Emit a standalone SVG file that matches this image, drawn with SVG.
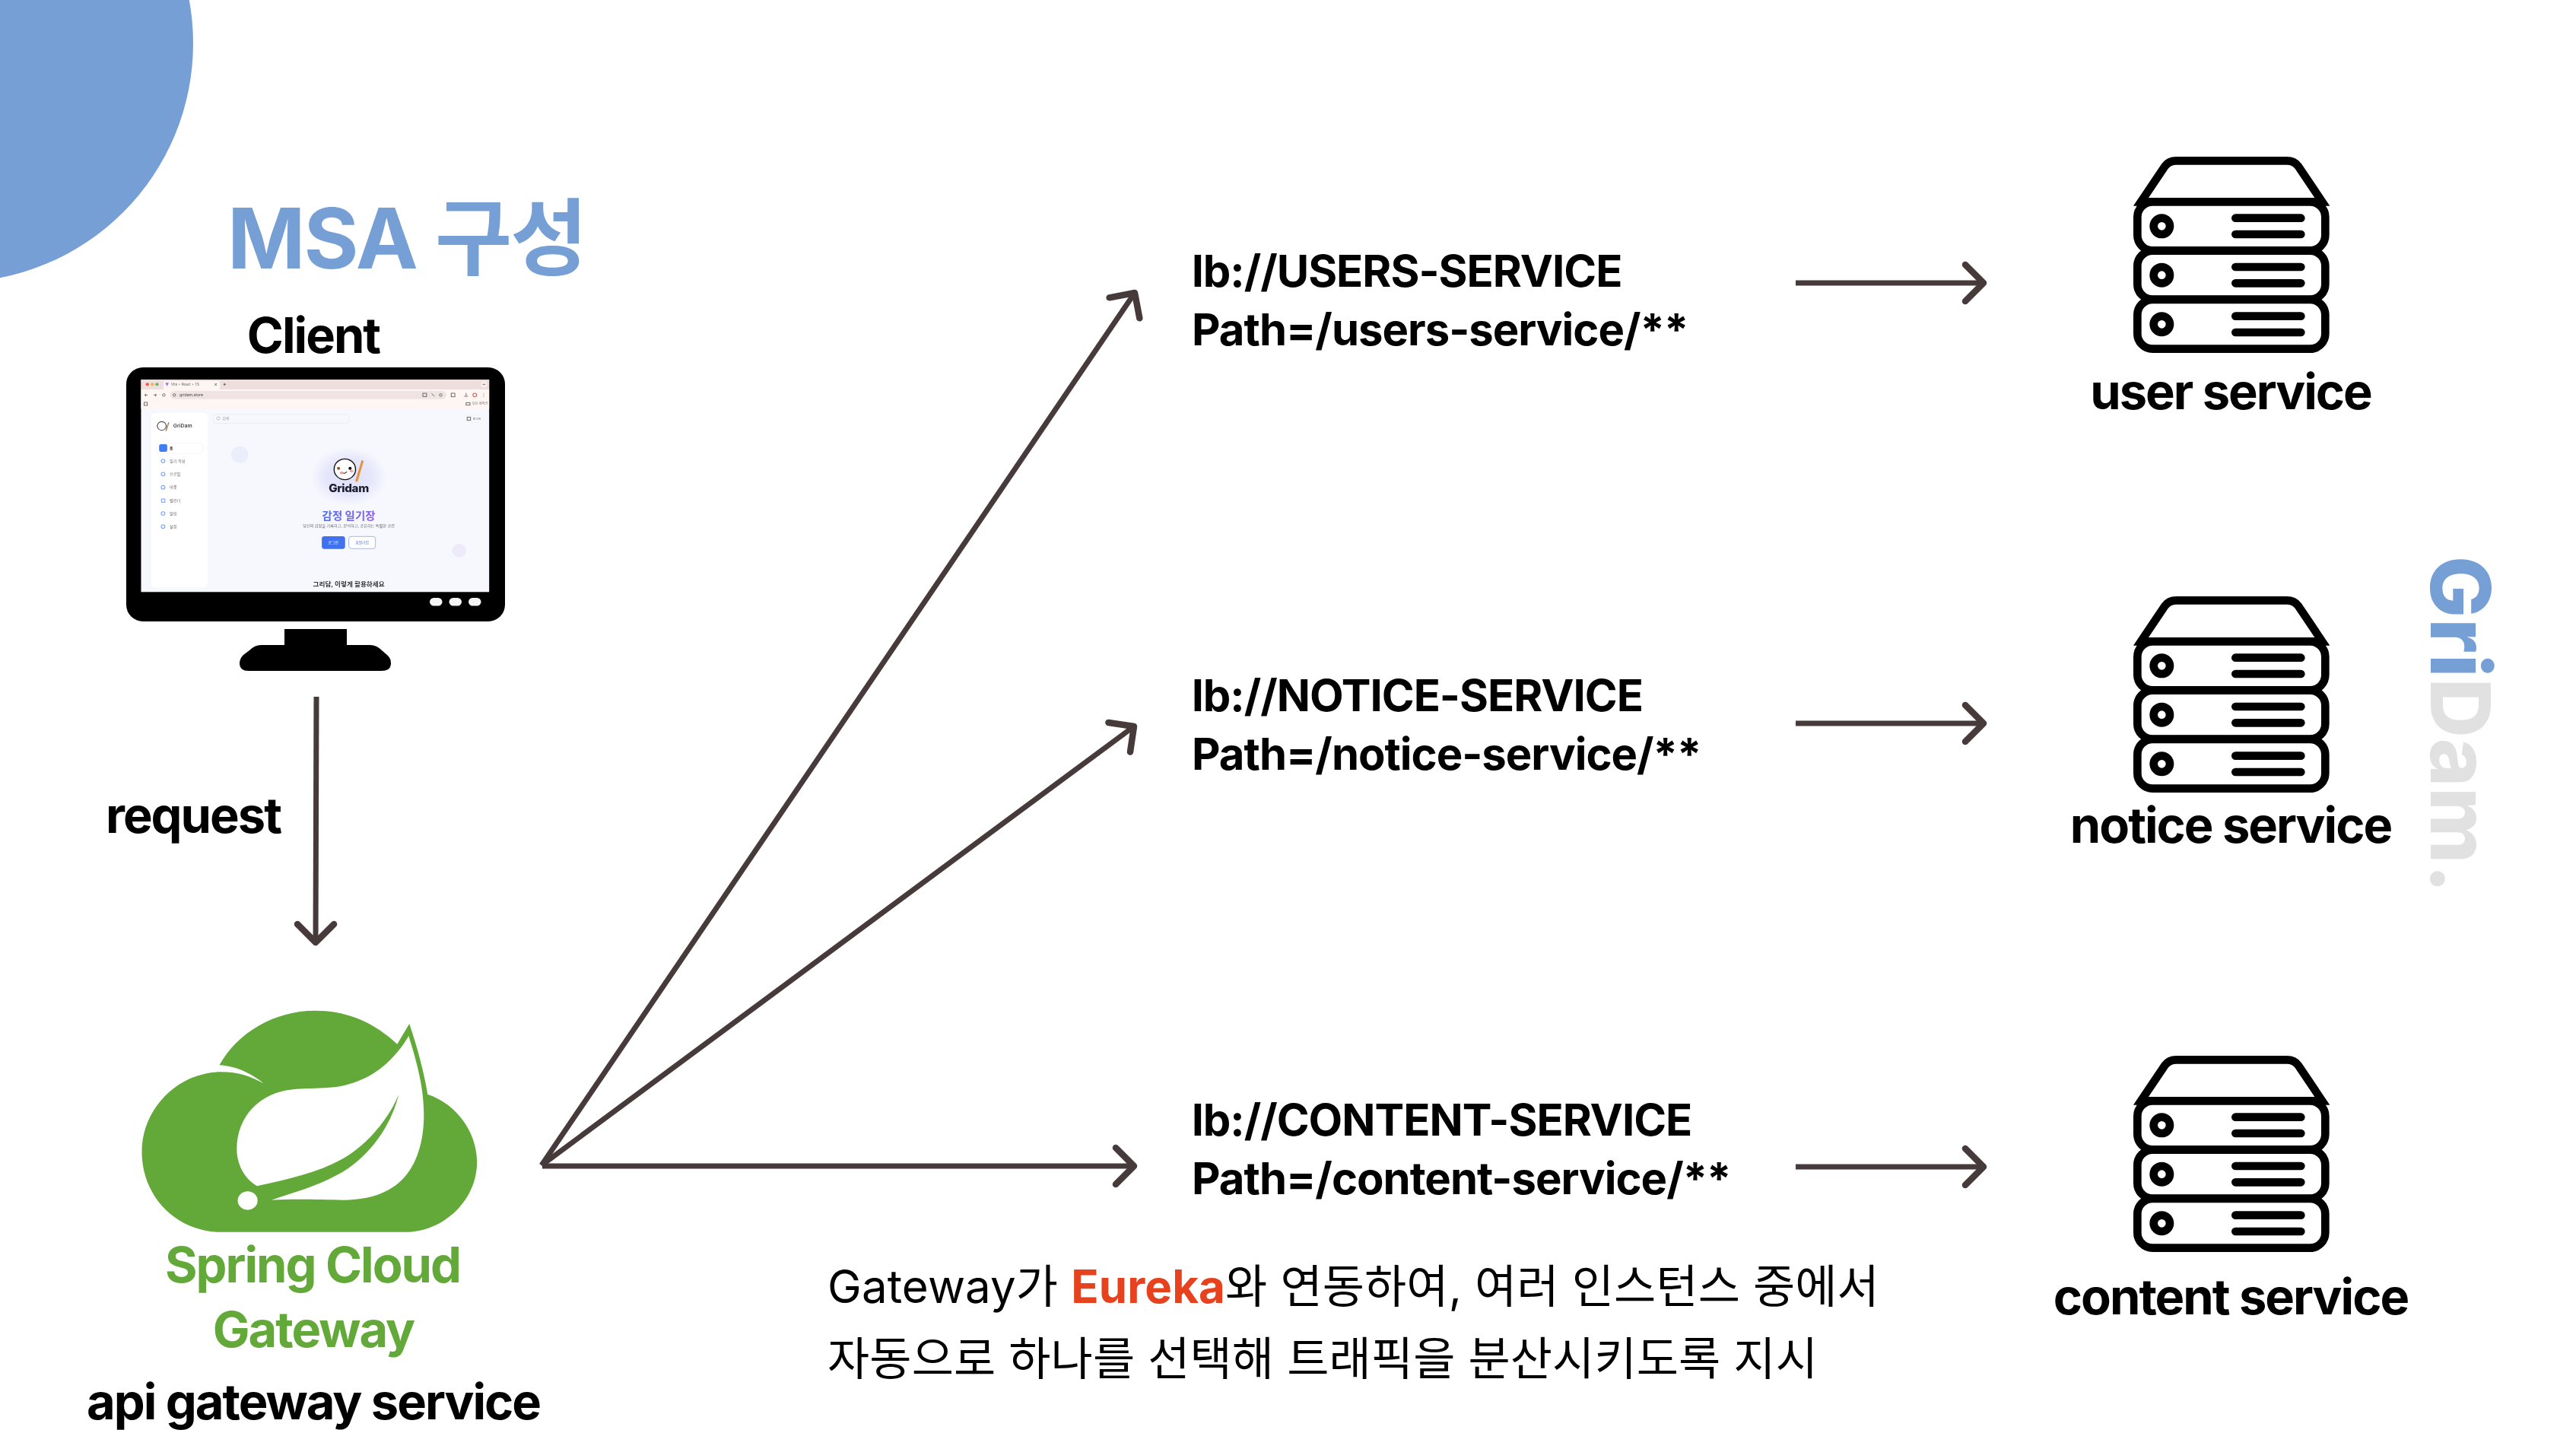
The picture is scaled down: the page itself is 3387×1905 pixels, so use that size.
<svg xmlns="http://www.w3.org/2000/svg" width="3387" height="1905" viewBox="0 0 3387 1905">
<style>
text{font-family:"Inter","Noto Sans CJK KR",sans-serif;fill:#000}
.lbl{font-size:65px;font-weight:700;text-anchor:middle;letter-spacing:-2px}
.route{font-size:58px;font-weight:700;letter-spacing:-1px}
.desc{font-size:60px;font-weight:400;letter-spacing:.12px}
.conn{fill:none;stroke:#463a3a;stroke-width:7;marker-end:url(#head)}
.srv{fill:#fff;stroke:#000;stroke-width:32}
.srvl{fill:none;stroke:#000;stroke-width:32;stroke-linecap:round}
.s{font-size:15px;fill:#666}
.ic{fill:none;stroke:#7a9ff0;stroke-width:3}
.tb{fill:none;stroke:#555;stroke-width:2.5}
</style>
<defs>
<marker id="head" markerUnits="userSpaceOnUse" markerWidth="60" markerHeight="60" refX="30" refY="30" orient="auto" overflow="visible">
<path d="M6,6 L30,30 L6,54" fill="none" stroke="#463a3a" stroke-width="8.500" stroke-linecap="round" stroke-linejoin="round"/>
</marker>
<radialGradient id="glow"><stop offset="0" stop-color="#dfe0fb"/><stop offset="0.6" stop-color="#e6e6fb"/><stop offset="1" stop-color="#f6f8fd"/></radialGradient>
<linearGradient id="titleg"><stop offset="0" stop-color="#4f6ff2"/><stop offset="1" stop-color="#8a5cf6"/></linearGradient>
<filter id="soft"><feGaussianBlur stdDeviation="0.9"/></filter>
<g id="server" transform="scale(.3333)">
<path class="srv" d="M105,256 L200,115 Q215,94 245,94 L680,94 Q710,94 725,115 L820,256 Z"/>
<rect class="srv" x="91" y="256" width="741" height="192" rx="60"/>
<rect class="srv" x="91" y="449" width="741" height="192" rx="60"/>
<rect class="srv" x="91" y="642" width="741" height="194" rx="60"/>
<circle class="srv" cx="187" cy="352" r="32"/><circle class="srv" cx="187" cy="545" r="32"/><circle class="srv" cx="187" cy="739" r="32"/>
<path class="srvl" d="M478,320H736M478,384H736M478,513H736M478,577H736M478,707H736M478,771H736"/>
</g>
</defs>
<rect width="3387" height="1905" fill="#fff"/>
<circle id="corner" cx="-60" cy="57" r="314" fill="#769fd6"/>
<text id="title" x="299" y="353" font-size="110" font-weight="700" letter-spacing="-2" style="fill:#769fd6">MSA 구성</text>
<text id="side" transform="translate(3196 731) rotate(90)" font-size="108" font-weight="800" letter-spacing="1"><tspan style="fill:#769fd6">Gri</tspan><tspan style="fill:#e1e1e1">Dam.</tspan></text>

<g id="client">
<text class="lbl" x="412" y="464">Client</text>
<rect x="166" y="483" width="498" height="334" rx="22" fill="#000"/>
<rect x="374" y="827" width="82" height="25" fill="#000"/>
<path d="M343,848H487Q495,848 502,855L510,862Q514,866 514,872 Q514,882 502,882H327Q315,882 315,872Q315,866 320,861L328,855Q335,848 343,848Z" fill="#000"/>
<rect x="565" y="786" width="16.500" height="10.600" rx="5.300" fill="#f4f4f4"/><rect x="590.500" y="786" width="16.500" height="10.600" rx="5.300" fill="#f4f4f4"/><rect x="616" y="786" width="16.500" height="10.600" rx="5.300" fill="#f4f4f4"/>
<g transform="translate(140 470) scale(.3444 .3333)" filter="url(#soft)">
<rect x="132" y="87" width="1329" height="838" fill="#f6f8fd"/>
<rect x="132" y="87" width="1329" height="39" fill="#efdede"/>
<rect x="132" y="126" width="1329" height="77" fill="#fdf6f3"/>
<path d="M218,126V95Q218,93 226,93H425Q433,93 433,100V126Z" fill="#fdf6f3"/>
<circle cx="156" cy="106" r="6" fill="#e9564d"/><circle cx="175" cy="106" r="6" fill="#eeb741"/><circle cx="193" cy="106" r="6" fill="#5fb95c"/>
<path d="M225,100H238L231,113Z" fill="#8f6cf0"/>
<text x="247" y="111" font-size="13" style="fill:#555">Vite + React + TS</text>
<path class="tb" d="M413,102L421,111M421,102L413,111M446,106H456M451,101V111"/>
<circle cx="1441" cy="106" r="12" fill="#f8eeee"/><path class="tb" d="M1436,106H1446"/>
<path class="tb" d="M146,148H157M146,148L151,143M146,148L151,153M180,148H191M191,148L186,143M191,148L186,153"/>
<circle class="tb" cx="219" cy="148" r="5"/>
<rect x="243" y="132" width="1055" height="32" rx="16" fill="#efe3e3"/>
<circle class="tb" cx="259" cy="148" r="5"/>
<text x="279" y="153" font-size="15" style="fill:#444">gridam.store</text>
<rect class="tb" x="1208" y="141" width="14" height="13"/><path class="tb" d="M1241,142L1252,153"/><circle class="tb" cx="1276" cy="148" r="5"/>
<rect class="tb" x="1316" y="141" width="14" height="14"/><path class="tb" d="M1366,153H1380M1373,140V150"/>
<circle cx="1406" cy="148" r="7" fill="none" stroke="#d45a5a" stroke-width="3"/><path class="tb" d="M1440,141V155" stroke-dasharray="2 4"/>
<rect class="tb" x="144" y="177" width="12" height="12"/>
<rect class="tb" x="1373" y="178" width="15" height="10"/>
<text x="1397" y="187" font-size="12" style="fill:#666">모든 북마크</text>
<rect x="171" y="218" width="214" height="689" rx="14" fill="#fff"/>
<rect x="408" y="224" width="517" height="36" rx="8" fill="#f6f8fd" stroke="#e6e8ee" stroke-width="2"/>
<circle cx="427" cy="240" r="6" fill="none" stroke="#aaa" stroke-width="2"/>
<text x="443" y="247" font-size="14" style="fill:#999">검색</text>
<rect x="1367" y="228" width="73" height="28" rx="6" fill="#f8f9fd" stroke="#eceef3"/>
<rect class="tb" x="1377" y="235" width="13" height="13"/>
<text x="1399" y="246" font-size="11" style="fill:#555">로그인</text>
<circle cx="211" cy="270" r="17" fill="#fff" stroke="#333" stroke-width="3"/>
<path d="M227,290 L238,256" stroke="#a7794e" stroke-width="4" fill="none"/>
<text x="255" y="276" font-size="20" font-weight="600" style="fill:#444">GriDam</text>
<rect x="192" y="338" width="175" height="41" rx="10" fill="#fff" stroke="#eef0f6" stroke-width="2"/>
<rect x="201" y="342" width="31" height="30" rx="7" fill="#3f7bf6"/>
<text x="241" y="362" font-size="14" font-weight="600" style="fill:#333">홈</text>
<circle class="ic" cx="216" cy="408" r="7"/><text class="s" x="241" y="413" font-size="13">일기 작성</text>
<circle class="ic" cx="216" cy="460" r="7"/><text class="s" x="241" y="465" font-size="13">프로필</text>
<circle class="ic" cx="216" cy="512" r="7"/><text class="s" x="241" y="517" font-size="13">마켓</text>
<rect class="ic" x="210" y="558" width="13" height="13"/><text class="s" x="241" y="569" font-size="13">캘린더</text>
<circle class="ic" cx="216" cy="615" r="7"/><text class="s" x="241" y="620" font-size="13">알림</text>
<circle class="ic" cx="216" cy="667" r="7"/><text class="s" x="241" y="672" font-size="13">설정</text>
<circle cx="509" cy="383" r="33" fill="#e9eefa"/><circle cx="1346" cy="762" r="27" fill="#efeafa"/>
<ellipse cx="925" cy="470" rx="145" ry="115" fill="url(#glow)"/>
<circle cx="910" cy="441" r="41" fill="#fff" stroke="#111" stroke-width="4"/>
<path d="M955,486 L977,410" stroke="#e3963a" stroke-width="9" stroke-linecap="round" fill="none"/>
<circle cx="886" cy="437" r="6" fill="#8a5a2b"/><circle cx="930" cy="437" r="6" fill="#111"/>
<path d="M898,452 Q908,462 918,450" stroke="#111" stroke-width="3" fill="none"/>
<ellipse cx="898" cy="455" rx="8" ry="5" fill="#f39a9a"/><ellipse cx="936" cy="448" rx="7" ry="5" fill="#f39a9a"/>
<text x="925" y="530" font-size="44" font-weight="800" letter-spacing="-1" text-anchor="middle" style="fill:#1c1a2e">Gridam</text>
<text x="925" y="640" font-size="42" font-weight="700" text-anchor="middle" style="fill:url(#titleg)">감정 일기장</text>
<text class="s" x="925" y="670" text-anchor="middle">당신의 감정을 기록하고, 분석하고, 공유하는 특별한 공간</text>
<rect x="822" y="705" width="89" height="50" rx="10" fill="#3f72f0"/>
<text x="866" y="735" font-size="14" text-anchor="middle" style="fill:#fff">로그인</text>
<rect x="925" y="706" width="102" height="48" rx="10" fill="#fff" stroke="#6f95ef" stroke-width="2"/>
<text x="976" y="735" font-size="14" text-anchor="middle" style="fill:#3f72f0">회원가입</text>
<text x="925" y="904" font-size="25" font-weight="600" text-anchor="middle" style="fill:#333">그리담, 이렇게 활용하세요</text>
</g>
</g>

<text id="request" class="lbl" x="254" y="1095">request</text>

<g id="gateway">
<g transform="translate(100 1300) scale(.408 .383)">
<path fill="#62a93a" d="M470,835C320,835 212,710 212,560C212,410 330,285 470,285C520,285 565,300 605,325C570,295 520,265 462,262C520,150 640,75 770,75C880,75 965,120 1035,190L1074,120C1100,200 1122,290 1133,362C1225,395 1292,490 1292,595C1292,725 1185,835 1060,835Z"/>
<path fill="#fff" d="M1072,162C1040,220 960,335 800,340C760,342 730,342 700,345C590,355 518,440 518,550C518,600 540,650 583,677C700,650 800,625 880,570C950,520 1010,440 1040,362C1010,490 930,590 840,640C770,680 700,700 630,725C720,720 800,725 860,725C1000,725 1090,660 1115,510C1135,380 1100,260 1072,162Z"/>
<circle cx="553" cy="727" r="32" fill="#fff"/>
</g>
<text class="lbl" x="411" y="1686" style="fill:#62a93a">Spring Cloud</text>
<text class="lbl" x="412" y="1771" style="fill:#62a93a">Gateway</text>
<text class="lbl" x="412" y="1866">api gateway service</text>
</g>

<g id="connectors">
<path class="conn" d="M416,916 L415,1239"/>
<path class="conn" d="M712,1532 L1492,385"/>
<path class="conn" d="M712,1532 L1491,955"/>
<path class="conn" d="M713,1533 L1491,1533"/>
<path class="conn" d="M2361,372 L2608,372"/>
<path class="conn" d="M2361,951 L2608,951"/>
<path class="conn" d="M2361,1534 L2608,1534"/>
</g>

<g id="route-users"><text class="route" x="1567" y="377">lb://USERS-SERVICE</text><text class="route" x="1567" y="454">Path=/users-service/**</text></g>
<g id="route-notice"><text class="route" x="1567" y="935">lb://NOTICE-SERVICE</text><text class="route" x="1567" y="1012">Path=/notice-service/**</text></g>
<g id="route-content"><text class="route" x="1567" y="1493">lb://CONTENT-SERVICE</text><text class="route" x="1567" y="1570">Path=/content-service/**</text></g>

<g id="user-service"><use href="#server" transform="translate(2780 180)"/><text class="lbl" x="2933" y="538">user service</text></g>
<g id="notice-service"><use href="#server" transform="translate(2780 758)"/><text class="lbl" x="2933" y="1108">notice service</text></g>
<g id="content-service"><use href="#server" transform="translate(2780 1362)"/><text class="lbl" x="2933" y="1728">content service</text></g>

<g id="note">
<text class="desc" x="1088" y="1713">Gateway가 <tspan font-weight="700" style="fill:#e5421d">Eureka</tspan>와 연동하여, 여러 인스턴스 중에서</text>
<text class="desc" x="1088" y="1808">자동으로 하나를 선택해 트래픽을 분산시키도록 지시</text>
</g>
</svg>
